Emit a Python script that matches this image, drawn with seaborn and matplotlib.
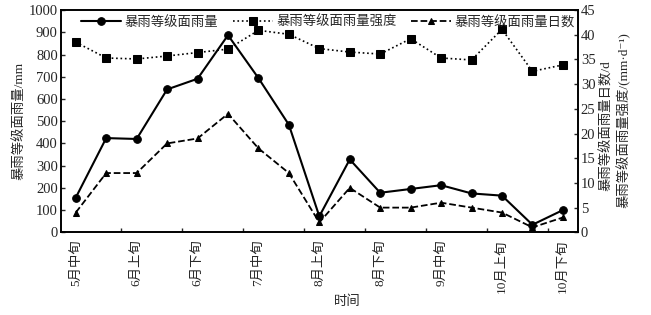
import numpy as np
import pandas as pd
import matplotlib
matplotlib.use("Agg")
import matplotlib.pyplot as plt
import seaborn as sns

# 旬序列
periods = ['5月中旬', '5月下旬', '6月上旬', '6月中旬', '6月下旬', '7月上旬', '7月中旬', '7月下旬',
           '8月上旬', '8月中旬', '8月下旬', '9月上旬', '9月中旬', '9月下旬', '10月上旬', '10月中旬', '10月下旬']
# 暴雨等级面雨量 (mm)
rain_amount = [156, 424, 420, 643, 691, 887, 694, 484, 72, 328, 178, 195, 212, 175, 165, 34, 100]
# 暴雨等级面雨量强度 (mm/d)
rain_intensity = [38.5, 35.3, 35.1, 35.7, 36.4, 37.1, 40.9, 40.1, 37.2, 36.5, 36.1, 39.2, 35.3, 34.9, 41.1, 32.6, 33.9]
# 暴雨等级面雨量日数 (d)
rain_days = [4, 12, 12, 18, 19, 24, 17, 12, 2, 9, 5, 5, 6, 5, 4, 1, 3]

sns.set_style("ticks")
plt.rcParams['font.family'] = ['Liberation Serif', 'Noto Sans CJK SC', 'DejaVu Sans']
plt.rcParams['axes.unicode_minus'] = False

df = pd.DataFrame({'pos': np.arange(len(periods)), 'period': periods,
                   'amount': rain_amount, 'intensity': rain_intensity, 'days': rain_days})

fig = plt.figure(figsize=(6.51, 3.15), dpi=100)
ax = fig.add_axes([0.093, 0.2625, 0.795, 0.7055])
ax2 = ax.twinx()

sns.lineplot(data=df, x='pos', y='amount', ax=ax, color='black', marker='o', markersize=5.5,
             mec='black', lw=1.5, legend=False)
sns.lineplot(data=df, x='pos', y='intensity', ax=ax2, color='black', marker='s', markersize=5.5,
             mec='black', lw=1.2, ls=':', legend=False)
sns.lineplot(data=df, x='pos', y='days', ax=ax2, color='black', marker='^', markersize=5,
             mec='black', lw=1.3, ls='--', legend=False)

# 坐标轴
ax.set_xlim(-0.5, len(periods) - 0.5)
ax.set_ylim(0, 1000)
ax.set_yticks(np.arange(0, 1001, 100))
ax2.set_ylim(0, 45)
ax2.set_yticks(np.arange(0, 46, 5))
ax2.set_ylabel('')

ax.set_xticks(df['pos'][::2])
ax.set_xticklabels(df['period'][::2], rotation=90, fontsize=9.6)
ax.set_xticks(np.arange(1.5, len(periods) - 1, 2), minor=True)
ax.tick_params(axis='x', which='major', length=0, pad=5)
ax.tick_params(axis='x', which='minor', direction='in', length=3, width=1)
ax.tick_params(axis='y', direction='in', length=3, width=1, labelsize=10.5, pad=2)
ax2.tick_params(axis='y', direction='in', length=3, width=1, labelsize=10.5, pad=2)

for a in (ax, ax2):
    for s in a.spines.values():
        s.set_visible(True)
        s.set_color('black')
        s.set_linewidth(1.2)

ax.set_xlabel('时间', fontsize=9.6)
ax.xaxis.set_label_coords(0.555, -0.285)
ax.set_ylabel('暴雨等级面雨量/mm', fontsize=9.6)
ax.yaxis.set_label_coords(-0.068, 0.5)

fig.text(0.932, 0.60, '暴雨等级面雨量日数/d', rotation=90, ha='center', va='center', fontsize=9.6)
fig.text(0.957, 0.62, '暴雨等级面雨量强度/(mm·d⁻¹)', rotation=90, ha='center', va='center', fontsize=9.6)

handles = [ax.lines[0], ax2.lines[0], ax2.lines[1]]
labels = ['暴雨等级面雨量', '暴雨等级面雨量强度', '暴雨等级面雨量日数']
ax2.legend(handles, labels, loc='upper center', bbox_to_anchor=(0.517, 1.01), ncol=3, frameon=False,
           fontsize=9.6, handlelength=3.0, columnspacing=1.1, handletextpad=0.25, borderaxespad=0.2)

fig.savefig('out.png', dpi=100)
